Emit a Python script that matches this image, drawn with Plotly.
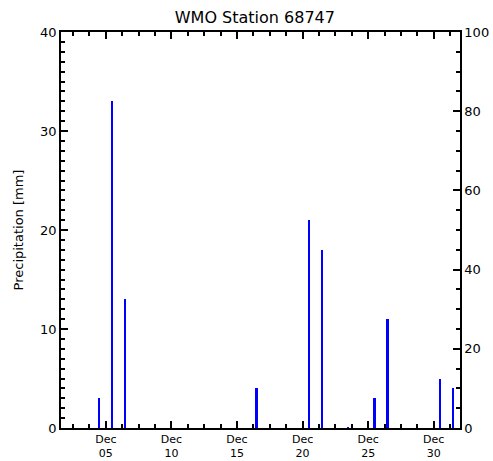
import plotly.graph_objects as go

title = "WMO Station 68747"
y_title = "Precipitation [mm]"
days = [f"2009-12-{d:02d} 12:00" for d in range(1, 32)]
precip = [0, 0, 0, 3, 33, 13, 0, 0, 0, 0, 0, 0.1, 0, 0, 0, 4, 0, 0, 0, 21,
          18, 0, 0.1, 0, 3, 11, 0, 0, 0, 5, 4]
x_range = ["2009-12-01 14:00", "2010-01-01 00:00"]

DAY_MS = 86400000
font = "DejaVu Sans"
tick_font = dict(size=13, family=font, color="black")
xtick_font = dict(size=11, family=font, color="black")

fig = go.Figure()
fig.add_trace(go.Bar(x=days, y=precip, width=0.15 * DAY_MS,
                     marker=dict(color="#0000FF", line=dict(width=0)),
                     showlegend=False))
fig.add_trace(go.Scatter(x=[days[0]], y=[0], yaxis="y2", mode="markers",
                         marker=dict(opacity=0), showlegend=False, hoverinfo="skip"))

fig.update_layout(
    width=493, height=461,
    margin=dict(l=61, r=33, t=32, b=33, autoexpand=False),
    paper_bgcolor="white", plot_bgcolor="white",
    font=dict(family=font, size=13, color="black"),
    title=dict(text=title, x=0.517, xanchor="center", y=0.962, yanchor="middle",
               font=dict(size=16, family=font)),
    bargap=0,
    xaxis=dict(type="date", range=x_range,
               tickmode="linear", tick0="2009-12-05", dtick=5 * DAY_MS,
               tickformat="%b<br>%d", ticks="inside", ticklen=7, tickwidth=1.5,
               tickcolor="black", showline=True, linecolor="black", linewidth=1.5,
               mirror="ticks", showgrid=False, zeroline=False, automargin=False,
               ticklabelstandoff=0,
               minor=dict(ticks="inside", ticklen=4, tick0="2009-12-05",
                          dtick=1.25 * DAY_MS, tickcolor="black", tickwidth=1.5),
               tickfont=xtick_font),
    yaxis=dict(range=[0, 40], tickmode="linear", tick0=0, dtick=10,
               ticks="inside", ticklen=7, tickwidth=1.5, tickcolor="black",
               showline=True, linecolor="black", linewidth=1.5, showgrid=False,
               zeroline=False, automargin=False,
               minor=dict(ticks="inside", ticklen=4, dtick=1, tickcolor="black",
                          tickwidth=1.5),
               title=dict(text=y_title, font=dict(size=13), standoff=14),
               tickfont=tick_font),
    yaxis2=dict(range=[0, 100], overlaying="y", side="right",
                tickmode="linear",
                tick0=0, dtick=20, ticks="inside", ticklen=7, tickwidth=1.5,
                tickcolor="black", showline=True, linecolor="black", linewidth=1.5,
                showgrid=False, zeroline=False, automargin=False,
                minor=dict(ticks="inside", ticklen=4, dtick=5, tickcolor="black",
                           tickwidth=1.5),
                tickfont=tick_font),
)

fig.write_html("out.html", config={"displayModeBar": False},
               post_script="document.body.style.margin='0';document.body.style.overflow='hidden';")
